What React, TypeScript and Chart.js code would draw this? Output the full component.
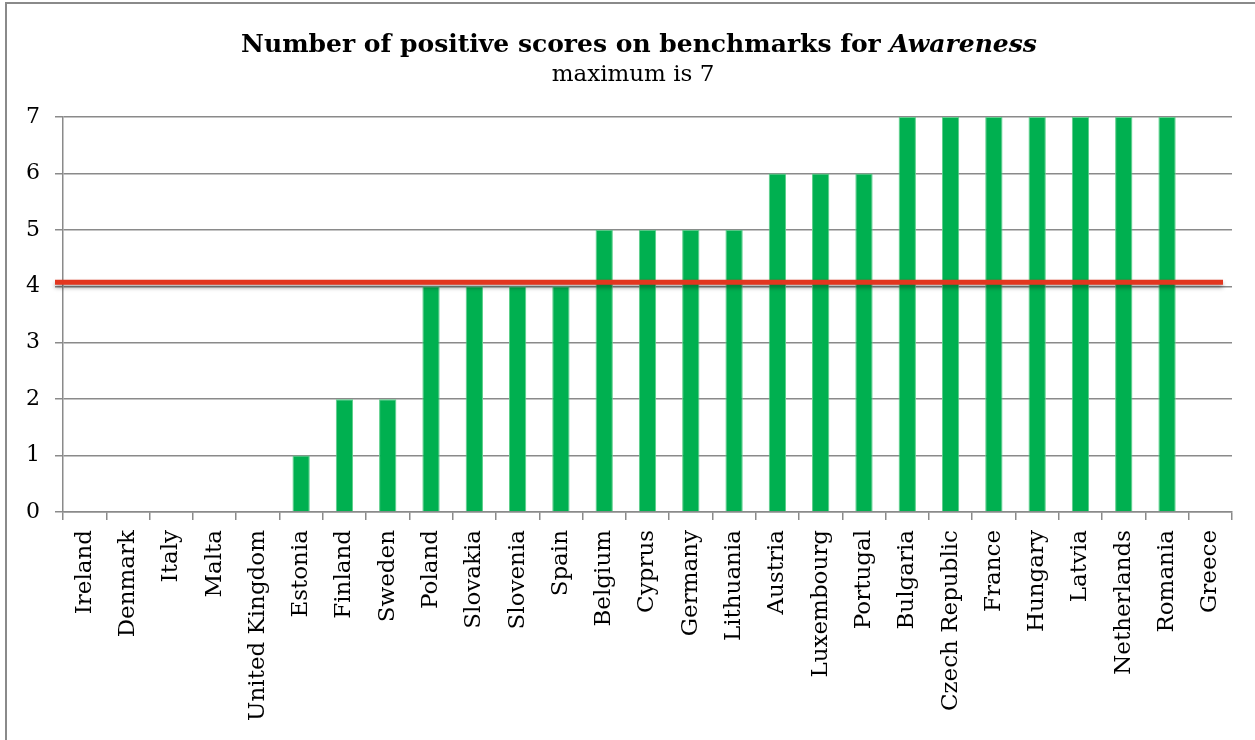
import React, { useEffect, useRef } from "react";
import { Chart, registerables } from "chart.js";

Chart.register(...registerables);

const countries = [
  "Ireland", "Denmark", "Italy", "Malta", "United Kingdom", "Estonia", "Finland",
  "Sweden", "Poland", "Slovakia", "Slovenia", "Spain", "Belgium", "Cyprus",
  "Germany", "Lithuania", "Austria", "Luxembourg", "Portugal", "Bulgaria",
  "Czech Republic", "France", "Hungary", "Latvia", "Netherlands", "Romania", "Greece",
];
const scores = [0, 0, 0, 0, 0, 1, 2, 2, 4, 4, 4, 4, 5, 5, 5, 5, 6, 6, 6, 7, 7, 7, 7, 7, 7, 7, 0];
const yTicks = [0, 1, 2, 3, 4, 5, 6, 7];
const referenceLineValue = 4.07;
const titleMain = "Number of positive scores on benchmarks for ";
const titleItalic = "Awareness";
const subtitleText = "maximum is 7";

const FONT = "'DejaVu Serif', Georgia, serif";

export default function App() {
  const ref = useRef<HTMLCanvasElement | null>(null);

  useEffect(() => {
    if (!ref.current) return;
    const frame = {
      id: "frame",
      beforeDraw(chart: any) {
        const ctx = chart.ctx;
        ctx.save();
        ctx.fillStyle = "#ffffff";
        ctx.fillRect(0, 0, chart.width, chart.height);
        ctx.strokeStyle = "#8a8a8a";
        ctx.lineWidth = 2;
        ctx.strokeRect(6, 3, 1400, 900);
        ctx.restore();
      },
      afterDraw(chart: any) {
        const ctx = chart.ctx;
        ctx.save();
        ctx.fillStyle = "#000000";
        ctx.textBaseline = "alphabetic";
        const f1 = `bold 25px ${FONT}`;
        const f2 = `italic bold 25px ${FONT}`;
        ctx.font = f1;
        const w1 = ctx.measureText(titleMain).width;
        ctx.font = f2;
        const w2 = ctx.measureText(titleItalic).width;
        const cx = 639;
        const x = cx - (w1 + w2) / 2;
        ctx.textAlign = "left";
        ctx.font = f1;
        ctx.fillText(titleMain, x, 52);
        ctx.font = f2;
        ctx.fillText(titleItalic, x + w1, 52);
        ctx.font = `23px ${FONT}`;
        ctx.textAlign = "center";
        ctx.fillText(subtitleText, 633, 81);
        ctx.restore();
      },
      afterDatasetsDraw(chart: any) {
        const ctx = chart.ctx;
        const y = chart.scales.y.getPixelForValue(referenceLineValue);
        const a = chart.chartArea;
        ctx.save();
        ctx.shadowColor = "rgba(0,0,0,0.35)";
        ctx.shadowBlur = 4;
        ctx.shadowOffsetY = 3;
        ctx.strokeStyle = "#e2361f";
        ctx.lineWidth = 5;
        ctx.beginPath();
        ctx.moveTo(a.left - 8, y);
        ctx.lineTo(a.right - 9, y);
        ctx.stroke();
        ctx.restore();
      },
    };

    const chart = new Chart(ref.current, {
      type: "bar",
      data: {
        labels: countries,
        datasets: [
          {
            data: scores,
            backgroundColor: "#00b050",
            borderColor: "#5ccf8a",
            borderWidth: 1,
            barPercentage: 0.4,
            categoryPercentage: 1,
          },
        ],
      },
      options: {
        animation: false,
        responsive: false,
        devicePixelRatio: 1,
        layout: { padding: { left: 0, right: 23, top: 117, bottom: 0 } },
        plugins: {
          legend: { display: false },
          title: { display: false },
          tooltip: { enabled: false },
        },
        scales: {
          x: {
            grid: {
              drawOnChartArea: false,
              drawTicks: true,
              tickLength: 8,
              color: "#8a8a8a",
              lineWidth: 1.5,
              offset: true,
            },
            border: { display: true, color: "#8a8a8a", width: 1.5 },
            ticks: {
              autoSkip: false,
              maxRotation: 90,
              minRotation: 90,
              padding: 10,
              color: "#000000",
              font: { family: FONT, size: 23 },
            },
            afterFit(scale: any) {
              scale.height = 228;
            },
          },
          y: {
            min: 0,
            max: 7,
            afterBuildTicks(scale: any) {
              scale.ticks = yTicks.map((v) => ({ value: v }));
            },
            grid: {
              color: "#8a8a8a",
              lineWidth: 1.5,
              tickLength: 8,
            },
            border: { display: true, color: "#8a8a8a", width: 1.5 },
            ticks: {
              padding: 15,
              color: "#000000",
              font: { family: FONT, size: 22 },
            },
            afterFit(scale: any) {
              scale.width = 63;
            },
          },
        },
      },
      plugins: [frame],
    });
    return () => chart.destroy();
  }, []);

  return (
    <div style={{ position: "absolute", left: 0, top: 0, width: 1255, height: 740 }}>
      <canvas ref={ref} width={1255} height={740} />
    </div>
  );
}
